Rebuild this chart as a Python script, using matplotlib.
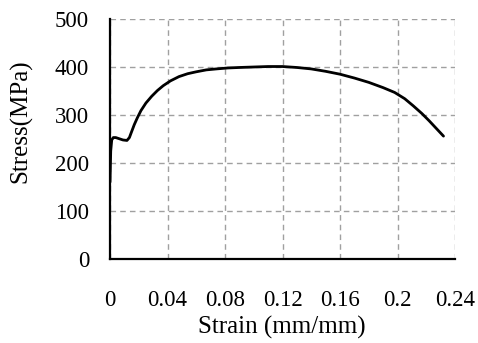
import matplotlib
matplotlib.use("Agg")
import matplotlib.pyplot as plt
import numpy as np

strain = [0.0, 0.0005, 0.0012, 0.0023, 0.004, 0.006, 0.009, 0.0118, 0.0135, 0.0150, 0.0169, 0.0190,
          0.0215, 0.025, 0.029, 0.033, 0.037, 0.042, 0.048, 0.054, 0.060, 0.067, 0.074, 0.082,
          0.090, 0.100, 0.110, 0.120, 0.130, 0.140, 0.150, 0.160, 0.170, 0.180, 0.190, 0.198,
          0.205, 0.211, 0.217, 0.222, 0.227, 0.232]
stress = [160, 225, 248, 253, 253, 251, 248, 247, 253, 265, 280, 294,
          309, 325, 339, 351, 361, 371, 380, 386, 390, 394, 396, 398,
          399, 400, 401, 401, 399, 396, 391, 385, 377, 368, 357, 347,
          334, 319, 303, 288, 272, 256]

xticks = [0, 0.04, 0.08, 0.12, 0.16, 0.2, 0.24]
xtick_labels = ["0", "0.04", "0.08", "0.12", "0.16", "0.2", "0.24"]
yticks = [0, 100, 200, 300, 400, 500]

plt.rcParams['font.family'] = ['Liberation Serif', 'DejaVu Serif']

fig = plt.figure(figsize=(4.78, 3.43), dpi=100)
ax = fig.add_axes([110/478, 1-259/343, (455-110)/478, (259-19)/343])

ax.plot(strain, stress, color='black', lw=2.0, solid_capstyle='round',
        solid_joinstyle='round', zorder=3)

ax.set_xlim(0, 0.24)
ax.set_ylim(0, 500)
ax.set_xticks(xticks)
ax.set_xticklabels(xtick_labels)
ax.set_yticks(yticks)
ax.grid(True, color='#a0a0a0', linestyle=(0, (4, 3)), linewidth=1.0)
ax.set_axisbelow(True)
for s in ['top', 'right']:
    ax.spines[s].set_visible(False)
for s in ['left', 'bottom']:
    ax.spines[s].set_linewidth(1.6)
    ax.spines[s].set_color('black')
ax.tick_params(axis='x', length=0, pad=22, labelsize=16.5)
ax.tick_params(axis='y', length=0, pad=15, labelsize=16.5)
ax.set_xlabel("Strain (mm/mm)", fontsize=18, va='center')
ax.set_ylabel("Stress(MPa)", fontsize=18, va='center')
ax.xaxis.set_label_coords((282 - 110) / 345, (259 - 327) / 240)
ax.yaxis.set_label_coords((21 - 110) / 345, (259 - 121) / 240)

fig.savefig("out.png", dpi=100)
